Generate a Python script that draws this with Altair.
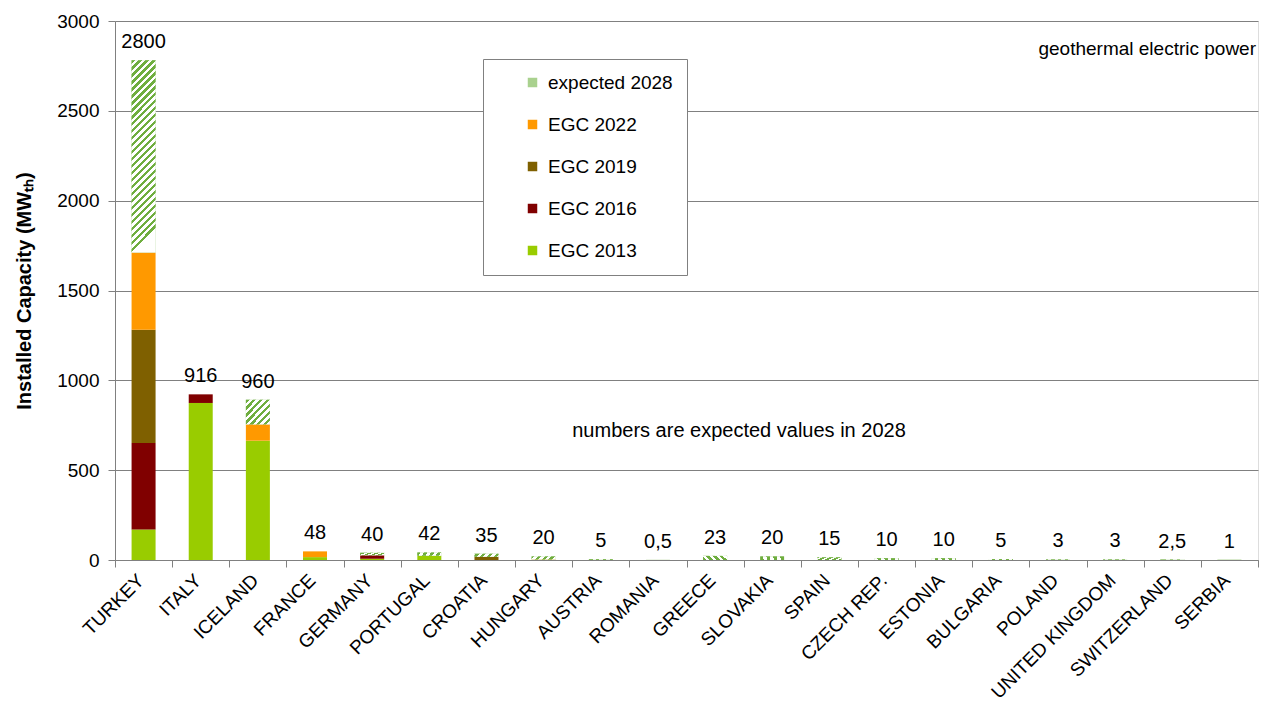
import altair as alt
import pandas as pd

countries = ["TURKEY", "ITALY", "ICELAND", "FRANCE", "GERMANY", "PORTUGAL", "CROATIA",
             "HUNGARY", "AUSTRIA", "ROMANIA", "GREECE", "SLOVAKIA", "SPAIN", "CZECH REP.",
             "ESTONIA", "BULGARIA", "POLAND", "UNITED KINGDOM", "SWITZERLAND", "SERBIA"]
egc2013 = [170, 874, 664, 16, 7, 24, 0, 0, 1, 0, 0, 0, 0, 0, 0, 0, 0, 0, 0, 0]
egc2016 = [481, 48, 0, 0, 19, 0, 0, 0, 0, 0, 0, 0, 0, 0, 0, 0, 0, 0, 0, 0]
egc2019 = [631, 0, 0, 0, 0, 0, 18, 0, 0, 0, 0, 0, 0, 0, 0, 0, 0, 0, 0, 0]
egc2022 = [430, 0, 91, 32, 0, 0, 0, 3, 0, 0, 0, 0, 0, 0, 0, 0, 0, 0, 0, 0]
expected2028 = [1070, 0, 137, 0, 14, 18, 17, 17, 4, 0.5, 23, 20, 15, 10, 10, 5, 3, 3, 2.5, 1]
value_labels = ["2800", "916", "960", "48", "40", "42", "35", "20", "5", "0,5", "23", "20",
                "15", "10", "10", "5", "3", "3", "2,5", "1"]

series_names = ["EGC 2013", "EGC 2016", "EGC 2019", "EGC 2022", "expected 2028"]
series_values = [egc2013, egc2016, egc2019, egc2022, expected2028]
legend_order = ["expected 2028", "EGC 2022", "EGC 2019", "EGC 2016", "EGC 2013"]
legend_colors = ["#a9d18e", "#ff9900", "#7f6000", "#800000", "#99cc00"]

rows = []
totals = []
for i, c in enumerate(countries):
    base = 0.0
    for k, (name, vals) in enumerate(zip(series_names, series_values)):
        v = vals[i]
        rows.append({"country": c, "series": name, "order": k, "y0": base, "y1": base + v})
        base += v
    totals.append(base)
df = pd.DataFrame(rows)
tot = pd.DataFrame({"country": countries, "total": totals, "label": value_labels})

FONT = "Liberation Sans, Arial, sans-serif"
W, H = 1143, 539
HATCH = "#6fae3f"


def stripes(n, frac, color):
    stops = []
    for i in range(n):
        a = i / n
        b = (i + frac) / n
        c = (i + 1) / n
        stops += [{"offset": a, "color": color}, {"offset": b, "color": color},
                  {"offset": b, "color": "#ffffff"}, {"offset": c, "color": "#ffffff"}]
    return stops


grad_tall = {"gradient": "linear", "x1": 0, "y1": 0, "x2": 0.125, "y2": 1,
             "stops": stripes(28, 0.5, HATCH)}
grad_small = {"gradient": "linear", "x1": 0, "y1": 0, "x2": 1, "y2": 1,
              "stops": stripes(7, 0.5, HATCH)}

xenc = alt.X("country:N",
             scale=alt.Scale(domain=countries, paddingInner=0, paddingOuter=0),
             axis=alt.Axis(title=None, labelAngle=-45, labelAlign="right", labelBaseline="middle",
                           labelFontSize=19, labelPadding=10, labelOffset=-3, tickBand="extent",
                           tickSize=7, domainColor="#808080", tickColor="#808080",
                           labelColor="#000000"))
yenc = alt.Y("y0:Q", scale=alt.Scale(domain=[0, 3000], nice=False),
             axis=alt.Axis(title="Installed Capacity (MWₜₕ)", values=[0, 500, 1000, 1500, 2000, 2500, 3000],
                           format="d", labelFontSize=19, titleFontSize=20, titleFontWeight="bold",
                           titlePadding=22, tickSize=7, labelPadding=9, gridColor="#808080",
                           domainColor="#808080", tickColor="#808080", labelColor="#000000",
                           titleColor="#000000"))

bars = alt.Chart(df).mark_bar(width={"band": 0.42}).encode(
    x=xenc,
    y=yenc,
    y2="y1:Q",
    color=alt.Color("series:N", scale=alt.Scale(domain=legend_order, range=legend_colors),
                    legend=alt.Legend(title=None, orient="none", legendX=368, legendY=38,
                                      direction="vertical", symbolType="square", symbolSize=90,
                                      labelFontSize=19, labelFont=FONT, rowPadding=22,
                                      padding=14, symbolOffset=26, labelOffset=6,
                                      labelExpr="datum.label + '\u00a0\u00a0\u00a0\u00a0'",
                                      strokeColor="#808080", fillColor="#ffffff",
                                      symbolStrokeWidth=0, labelColor="#000000")),
)

hatch_tall = alt.Chart(df).transform_filter(
    (alt.datum.series == "expected 2028") & (alt.datum.country == "TURKEY")
).mark_bar(width={"band": 0.42}, fill=grad_tall).encode(x=xenc, y=yenc, y2="y1:Q")

hatch_small = alt.Chart(df).transform_filter(
    (alt.datum.series == "expected 2028") & (alt.datum.country != "TURKEY")
).mark_bar(width={"band": 0.42}, fill=grad_small).encode(x=xenc, y=yenc, y2="y1:Q")

labels = alt.Chart(tot).mark_text(baseline="bottom", dy=-8, fontSize=20, font=FONT,
                                  color="#000000").encode(
    x=alt.X("country:N", scale=alt.Scale(domain=countries)),
    y=alt.Y("total:Q"),
    text="label:N",
)

note1 = alt.Chart(pd.DataFrame({"t": ["geothermal electric power"]})).mark_text(
    align="right", baseline="middle", fontSize=19, font=FONT, color="#000000"
).encode(text="t:N", x=alt.value(W - 2), y=alt.value(28))

note2 = alt.Chart(pd.DataFrame({"t": ["numbers are expected values in 2028"]})).mark_text(
    align="center", baseline="middle", fontSize=20, font=FONT, color="#000000"
).encode(text="t:N", x=alt.value(624), y=alt.value(410))

chart = alt.layer(bars, hatch_tall, hatch_small, labels, note1, note2).properties(
    width=W, height=H, padding={"left": 6, "top": 4, "right": 0, "bottom": 0}
).configure_view(stroke=None).configure(font=FONT).configure_axis(labelFont=FONT, titleFont=FONT)

chart.save("out.html", embed_options={"renderer": "svg", "actions": False})
